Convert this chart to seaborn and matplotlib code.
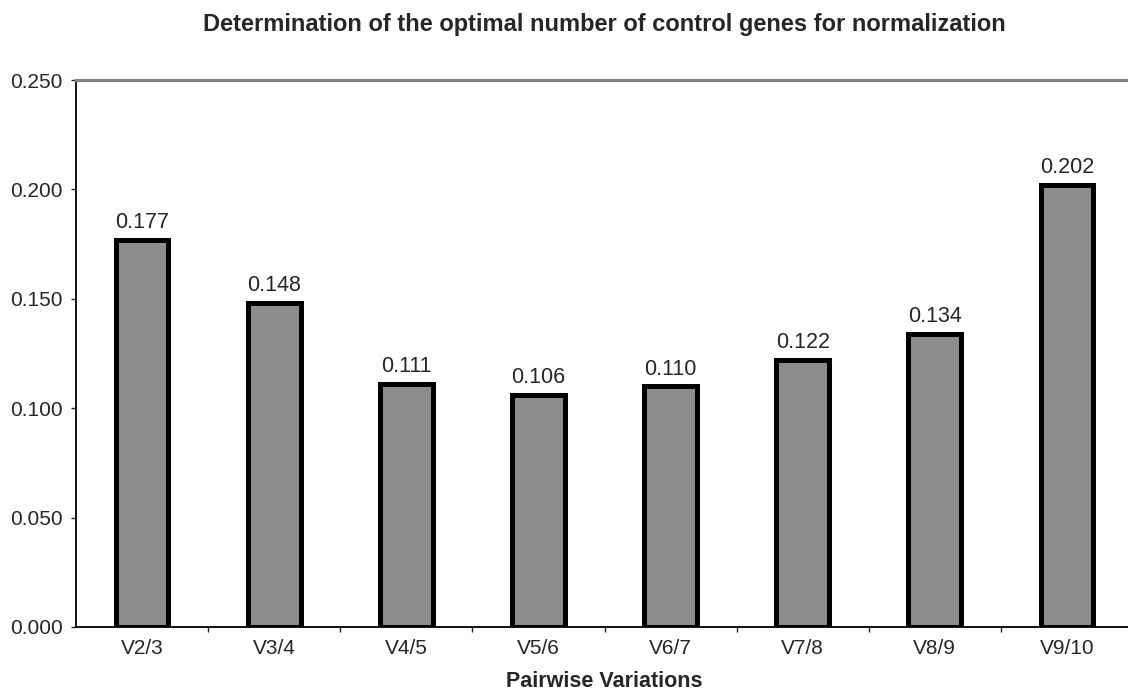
import matplotlib
matplotlib.use('Agg')
import matplotlib.pyplot as plt
import pandas as pd
import seaborn as sns
from matplotlib.ticker import FixedLocator, FormatStrFormatter

CATEGORIES = ['V2/3', 'V3/4', 'V4/5', 'V5/6', 'V6/7', 'V7/8', 'V8/9', 'V9/10']
VALUES = [0.177, 0.148, 0.111, 0.106, 0.110, 0.122, 0.134, 0.202]
LABELS = ['0.177', '0.148', '0.111', '0.106', '0.110', '0.122', '0.134', '0.202']
Y_TICKS = [0.0, 0.05, 0.10, 0.15, 0.20, 0.25]

sns.set_style('white')
plt.rcParams['font.family'] = ['Liberation Sans', 'DejaVu Sans']

df = pd.DataFrame({'pair': CATEGORIES, 'value': VALUES})

fig = plt.figure(figsize=(11.28, 6.95), dpi=100)
ax = fig.add_axes([76 / 1128, 1 - 627 / 695, 1057 / 1128, (627 - 80) / 695])

sns.barplot(x='pair', y='value', data=df, ax=ax, color='#8c8c8c', saturation=1,
            width=0.40, edgecolor='black', linewidth=3.6)

for i, (v, lab) in enumerate(zip(VALUES, LABELS)):
    ax.annotate(lab, (i, v), xytext=(0, 8.5), textcoords='offset points',
                ha='center', va='baseline', fontsize=15.5)

ax.set_ylim(0, 0.25)
ax.set_xlim(-0.5, len(CATEGORIES) - 0.5)
ax.yaxis.set_major_locator(FixedLocator(Y_TICKS))
ax.yaxis.set_major_formatter(FormatStrFormatter('%.3f'))
ax.tick_params(axis='y', labelsize=15, length=3.6, width=1, direction='out', left=True, pad=6)
ax.tick_params(axis='x', which='major', labelsize=15, length=0, pad=9)
ax.set_xticks([i + 0.5 for i in range(len(CATEGORIES) - 1)], minor=True)
ax.tick_params(axis='x', which='minor', length=3.6, width=1, direction='out', bottom=True)

for side in ['left', 'bottom']:
    ax.spines[side].set_color('black')
    ax.spines[side].set_linewidth(1.3)
ax.spines['top'].set_color('#808080')
ax.spines['top'].set_linewidth(2.2)
ax.spines['right'].set_visible(False)

ax.set_xlabel('Pairwise Variations', fontsize=15.5, fontweight='bold', labelpad=9)
ax.set_ylabel('')
ax.set_title('Determination of the optimal number of control genes for normalization',
             fontsize=17, fontweight='bold', pad=35)

fig.savefig('out.png', dpi=100)
